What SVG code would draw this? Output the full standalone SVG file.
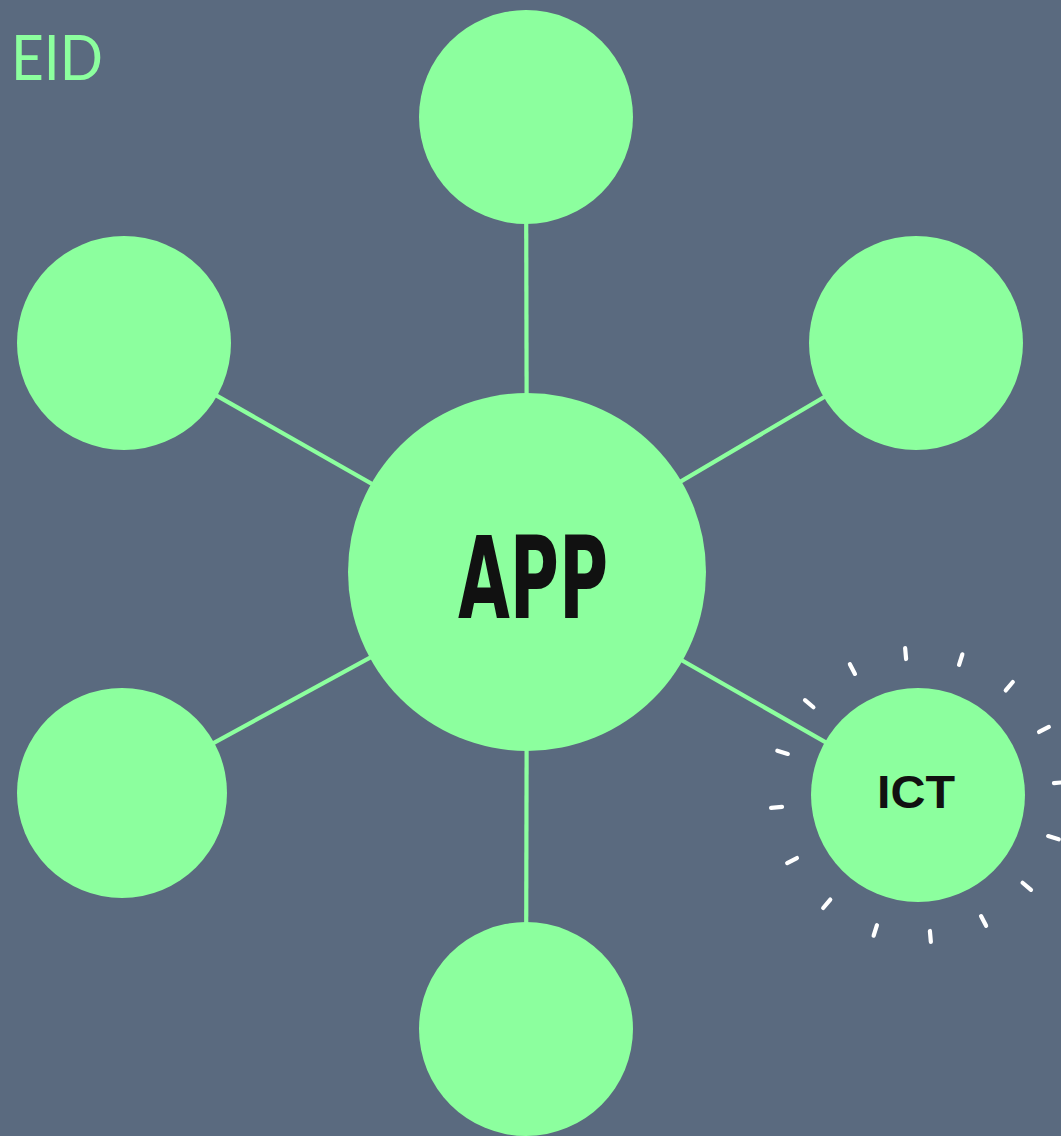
<svg xmlns="http://www.w3.org/2000/svg" width="1061" height="1136" viewBox="0 0 1061 1136">
<style>
.node{fill:#8CFF9E}
.conn line{stroke:#8CFF9E;stroke-width:4.2}
.dash line{stroke:#FFFFFF;stroke-width:4.2;stroke-linecap:round}
.lbl{fill:#111111;text-anchor:middle}
</style>
<rect width="1061" height="1136" fill="#5A6A7F"/>
<text x="103" y="80" font-family="Lato, 'Open Sans', sans-serif" font-weight="normal" font-size="62" fill="#8CFF9E" text-anchor="end" textLength="92" lengthAdjust="spacingAndGlyphs">EID</text>
<g id="connectors" class="conn">
<line x1="527" y1="572" x2="526" y2="117"/>
<line x1="527" y1="572" x2="124" y2="343"/>
<line x1="527" y1="572" x2="916" y2="343"/>
<line x1="527" y1="572" x2="122" y2="793"/>
<line x1="527" y1="572" x2="918" y2="795"/>
<line x1="527" y1="572" x2="526" y2="1029"/>
</g>
<g id="node-top"><circle class="node" cx="526" cy="117" r="107"/></g>
<g id="node-top-left"><circle class="node" cx="124" cy="343" r="107"/></g>
<g id="node-top-right"><circle class="node" cx="916" cy="343" r="107"/></g>
<g id="node-bottom-left"><circle class="node" cx="122" cy="793" r="105"/></g>
<g id="node-bottom"><circle class="node" cx="526" cy="1029" r="107"/></g>
<g id="node-app">
<circle class="node" cx="527" cy="572" r="179"/>
<text class="lbl" x="533" y="618" font-family="'Liberation Sans Narrow', 'DejaVu Sans Condensed', sans-serif" font-weight="bold" font-size="114" textLength="150" lengthAdjust="spacingAndGlyphs">APP</text>
</g>
<g id="node-ict">
<circle class="node" cx="918" cy="795" r="107"/>
<text class="lbl" x="916" y="808" font-family="'Liberation Sans', Arial, sans-serif" font-weight="bold" font-size="47" textLength="78" lengthAdjust="spacingAndGlyphs">ICT</text>
<g class="dash" transform="translate(918,795)">
<line x1="136.5" y1="0" x2="147.5" y2="0" transform="rotate(-95)"/>
<line x1="136.5" y1="0" x2="147.5" y2="0" transform="rotate(-72.5)"/>
<line x1="136.5" y1="0" x2="147.5" y2="0" transform="rotate(-50)"/>
<line x1="136.5" y1="0" x2="147.5" y2="0" transform="rotate(-27.5)"/>
<line x1="136.5" y1="0" x2="147.5" y2="0" transform="rotate(-5)"/>
<line x1="136.5" y1="0" x2="147.5" y2="0" transform="rotate(17.5)"/>
<line x1="136.5" y1="0" x2="147.5" y2="0" transform="rotate(40)"/>
<line x1="136.5" y1="0" x2="147.5" y2="0" transform="rotate(62.5)"/>
<line x1="136.5" y1="0" x2="147.5" y2="0" transform="rotate(85)"/>
<line x1="136.5" y1="0" x2="147.5" y2="0" transform="rotate(107.5)"/>
<line x1="136.5" y1="0" x2="147.5" y2="0" transform="rotate(130)"/>
<line x1="136.5" y1="0" x2="147.5" y2="0" transform="rotate(152.5)"/>
<line x1="136.5" y1="0" x2="147.5" y2="0" transform="rotate(175)"/>
<line x1="136.5" y1="0" x2="147.5" y2="0" transform="rotate(197.5)"/>
<line x1="136.5" y1="0" x2="147.5" y2="0" transform="rotate(220)"/>
<line x1="136.5" y1="0" x2="147.5" y2="0" transform="rotate(242.5)"/>
</g>
</g>
</svg>
